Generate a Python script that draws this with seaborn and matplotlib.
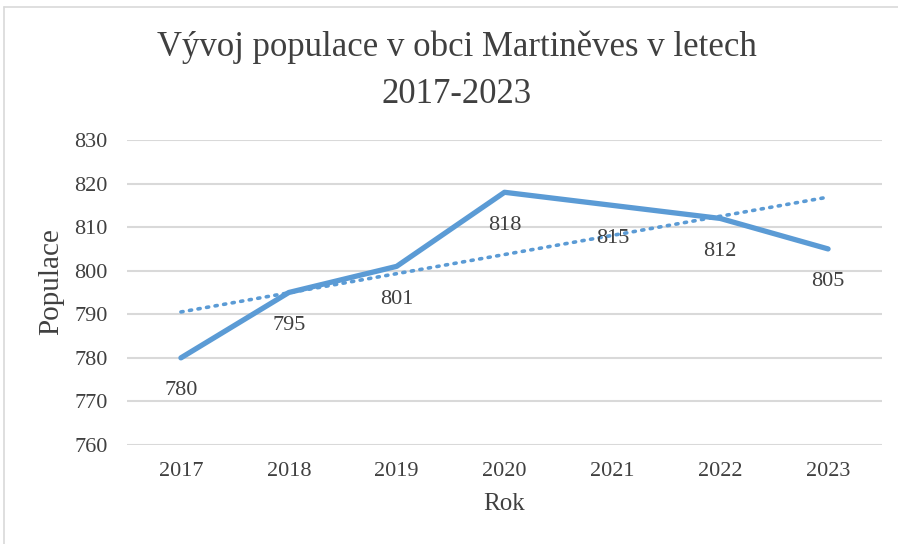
import matplotlib
matplotlib.use("Agg")
import matplotlib.pyplot as plt
import seaborn as sns
import numpy as np
import pandas as pd
from matplotlib.lines import Line2D

years = ["2017", "2018", "2019", "2020", "2021", "2022", "2023"]
population = [780, 795, 801, 818, 815, 812, 805]
yticks = [760, 770, 780, 790, 800, 810, 820, 830]
title = "Vývoj populace v obci Martiněves v letech\n2017-2023"
xlabel = "Rok"
ylabel = "Populace"

sns.set_theme(style="white")
plt.rcParams["font.family"] = ["Liberation Serif", "DejaVu Serif"]

color = "#5B9BD5"
text_color = "#404040"

df = pd.DataFrame({"year": years, "pop": population})
df["idx"] = np.arange(len(years))

fig = plt.figure(figsize=(8.98, 5.44), dpi=100)
ax = fig.add_axes([127 / 898, 1 - 445 / 544, (882 - 127) / 898, (445 - 140) / 544])

# Linear trendline (like Excel) computed from the data
coef = np.polyfit(df["idx"], df["pop"], 1)
trend = np.polyval(coef, df["idx"])
ax.plot(df["idx"], trend, linestyle=(0, (0.6, 1.8)), color=color, linewidth=2.6,
        dash_capstyle="round", zorder=2)

sns.lineplot(data=df, x="idx", y="pop", ax=ax, color=color, linewidth=3.8,
             solid_capstyle="round", solid_joinstyle="round", zorder=3)

for i, v in zip(df["idx"], df["pop"]):
    ax.annotate(str(v), (i, v), xytext=(0, -33), textcoords="offset pixels",
                ha="center", va="center", fontsize=16, color=text_color)

ax.set_xlim(-0.5, len(years) - 0.5)
ax.set_ylim(760, 830)
ax.set_yticks(yticks)
ax.set_xticks(df["idx"])
ax.set_xticklabels(years)
ax.yaxis.grid(True, color="#D9D9D9", linewidth=1.5)
ax.xaxis.grid(False)
for s in ax.spines.values():
    s.set_visible(False)
ax.tick_params(axis="both", length=0, labelsize=16, labelcolor=text_color)
ax.tick_params(axis="y", pad=14)
ax.tick_params(axis="x", pad=12)
ax.set_xlabel(xlabel, fontsize=18, color=text_color, labelpad=9)
ax.set_ylabel(ylabel, fontsize=21, color=text_color)
ax.yaxis.set_label_coords((51 - 127) / 755, (445 - 282) / 305)
ax.yaxis.label.set_va("center")

fig.text(457 / 898, 1 - 71 / 544, title, ha="center", va="center", fontsize=25,
         color=text_color, linespacing=1.55)

# light frame (top and left visible)
fig.add_artist(Line2D([4 / 898, 1], [1 - 7 / 544, 1 - 7 / 544], transform=fig.transFigure,
                      color="#D9D9D9", linewidth=1.2))
fig.add_artist(Line2D([4 / 898, 4 / 898], [0, 1 - 7 / 544], transform=fig.transFigure,
                      color="#D9D9D9", linewidth=1.2))

fig.savefig("out.png", dpi=100)
